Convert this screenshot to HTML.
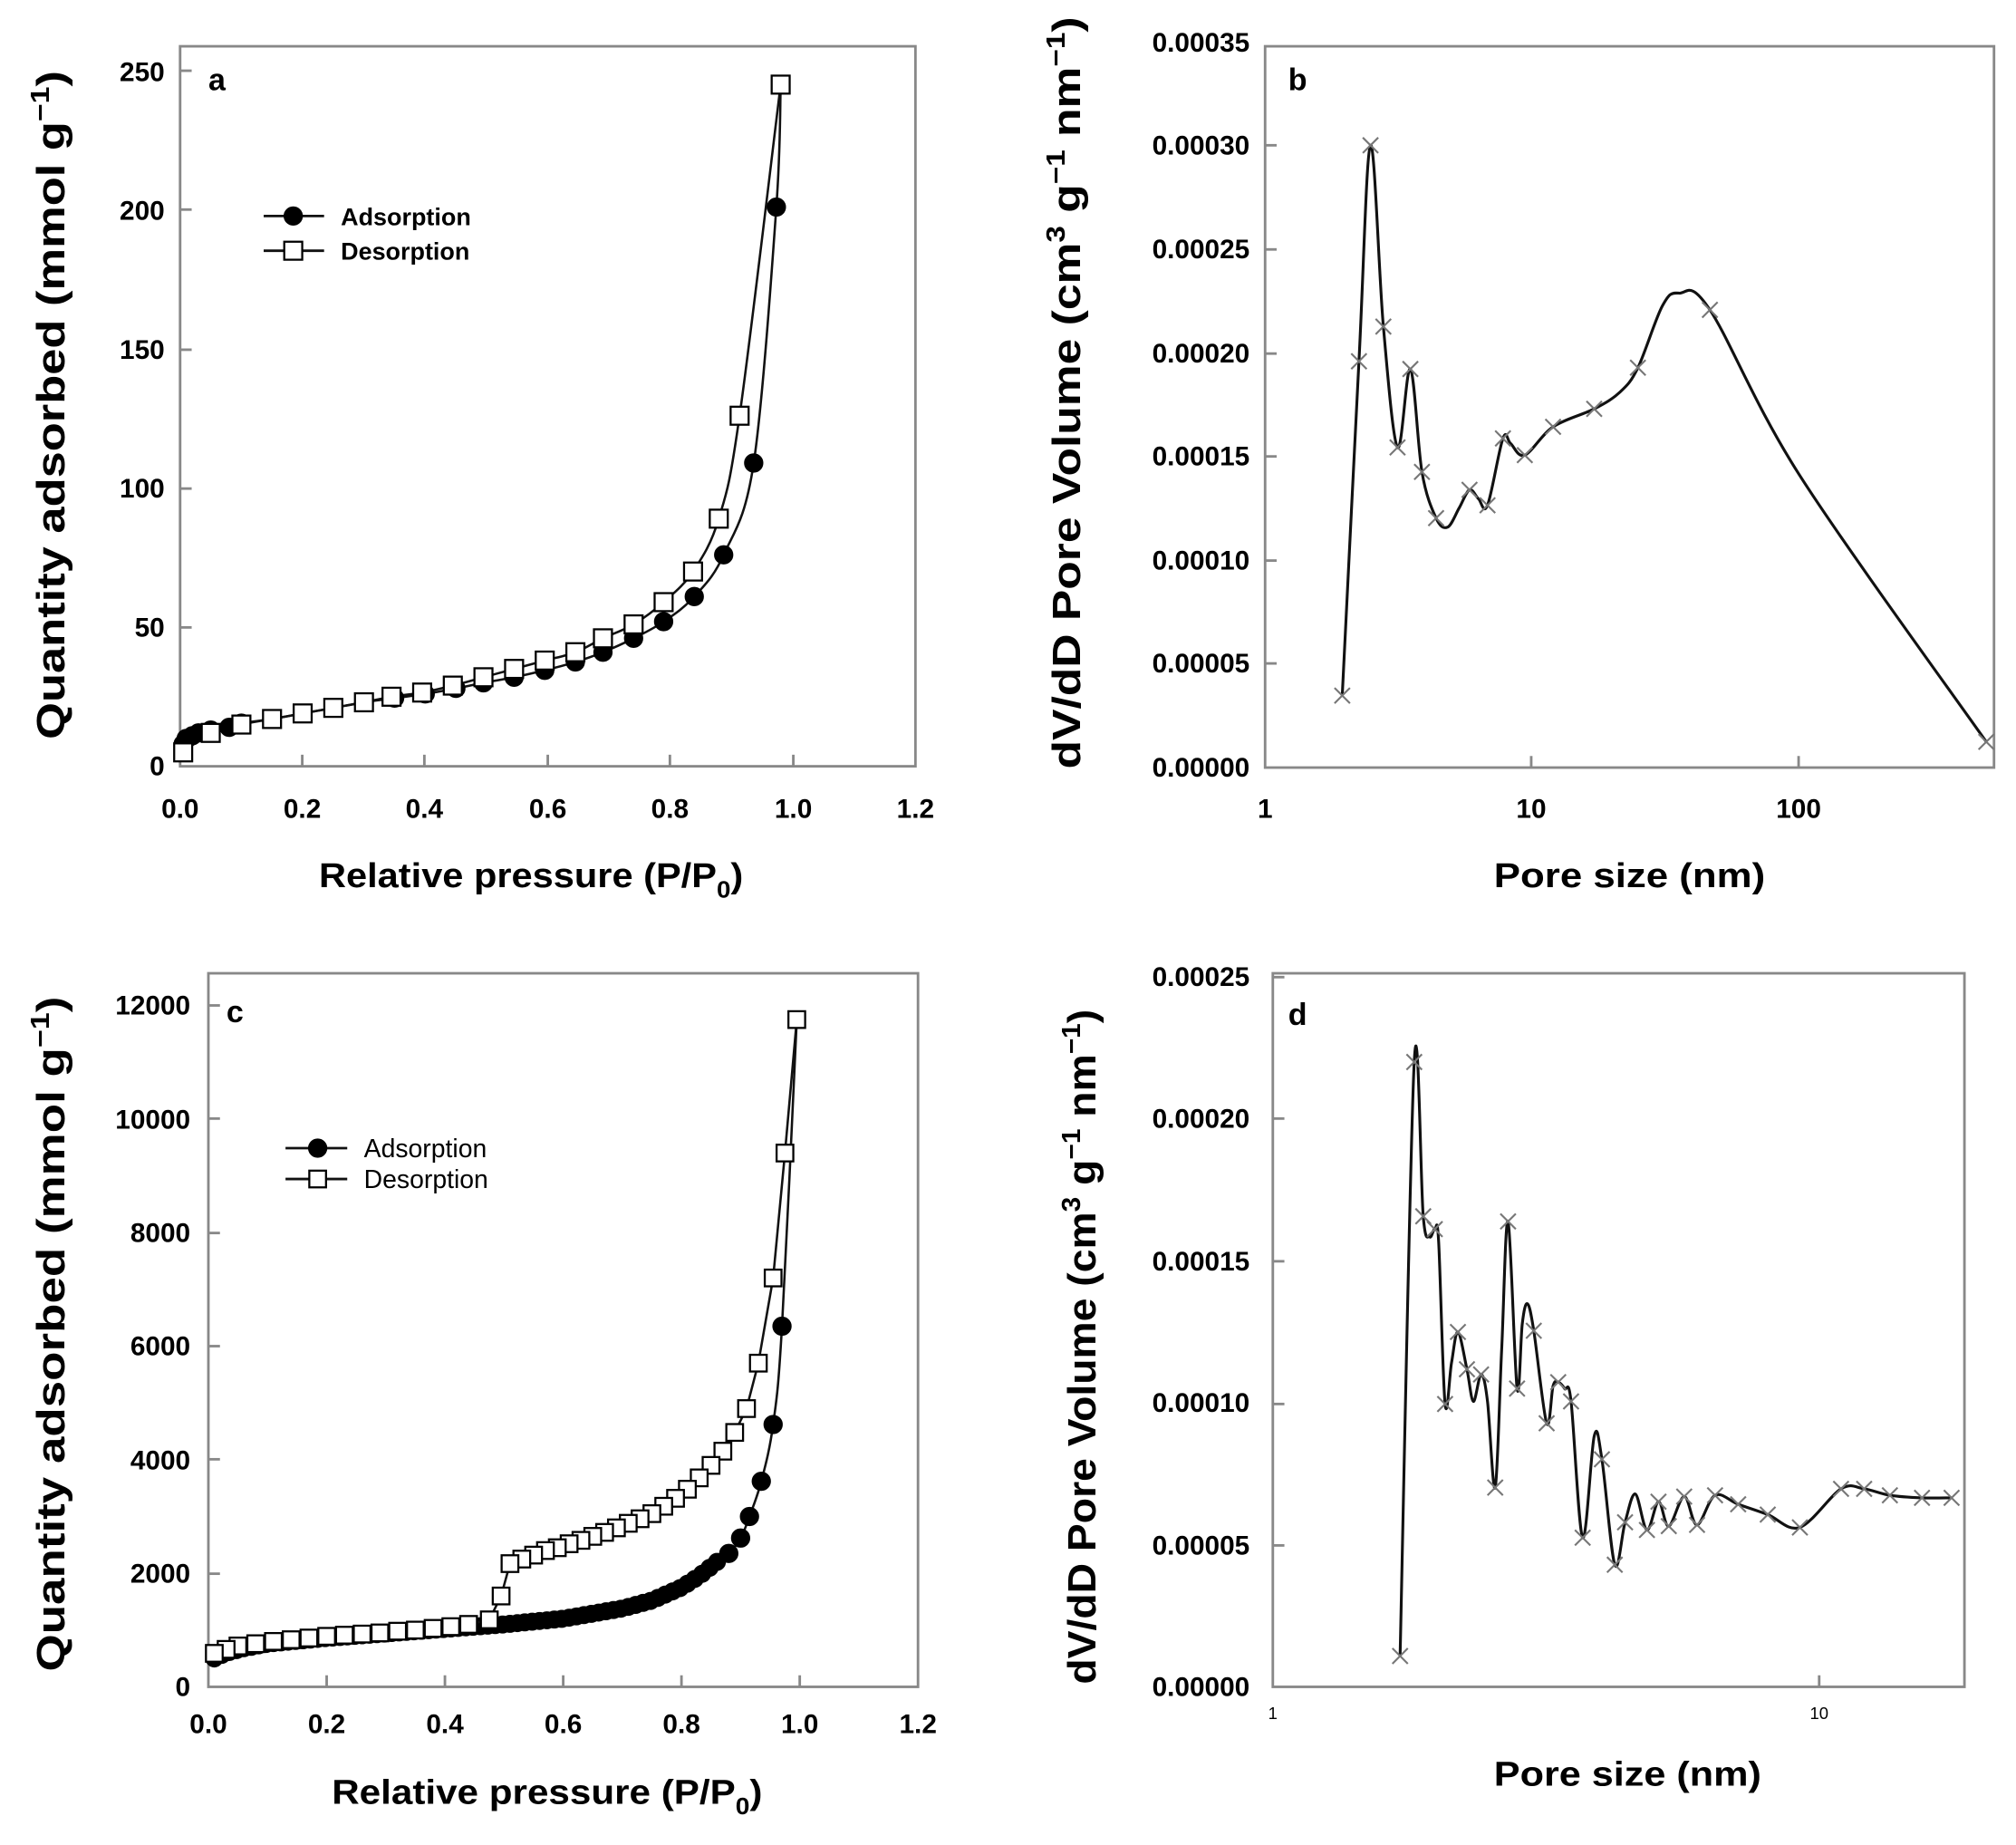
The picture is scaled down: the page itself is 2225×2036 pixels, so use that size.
<!DOCTYPE html>
<html><head><meta charset="utf-8"><style>
html,body{margin:0;padding:0;background:#fff;}
svg{display:block;}
text{font-family:"Liberation Sans",Arial,sans-serif;fill:#000;}
.b{font-weight:bold;}
</style></head><body>
<svg id="s" width="2225" height="2036" viewBox="0 0 1568 1435" xmlns="http://www.w3.org/2000/svg">
<rect width="1568" height="1435" fill="#fff"/>
<g id="g"></g>
<g class="b" font-size="21" text-anchor="end">
<text x="128" y="603">0</text><text x="128" y="495">50</text><text x="128" y="387">100</text>
<text x="128" y="279">150</text><text x="128" y="171">200</text><text x="128" y="63">250</text>
</g>
<g class="b" font-size="21" text-anchor="middle">
<text x="140" y="636">0.0</text><text x="235" y="636">0.2</text><text x="330" y="636">0.4</text>
<text x="426" y="636">0.6</text><text x="521" y="636">0.8</text><text x="617" y="636">1.0</text><text x="712" y="636">1.2</text>
</g>
<text class="b" x="162" y="70" font-size="24">a</text>
<text class="b" x="248" y="690" font-size="27" textLength="330" lengthAdjust="spacingAndGlyphs">Relative pressure (P/P<tspan font-size="18" dy="8">0</tspan><tspan dy="-8">)</tspan></text>
<text class="b" font-size="31" transform="translate(50,575) rotate(-90)" textLength="520" lengthAdjust="spacingAndGlyphs">Quantity adsorbed (mmol g<tspan font-size="20" dy="-12">−1</tspan><tspan dy="12">)</tspan></text>
<text class="b" x="265" y="175" font-size="19">Adsorption</text>
<text class="b" x="265" y="202" font-size="19">Desorption</text>

<g class="b" font-size="21" text-anchor="end">
<text x="972" y="604">0.00000</text><text x="972" y="523">0.00005</text><text x="972" y="443">0.00010</text>
<text x="972" y="362">0.00015</text><text x="972" y="282">0.00020</text><text x="972" y="201">0.00025</text>
<text x="972" y="120">0.00030</text><text x="972" y="40">0.00035</text>
</g>
<g class="b" font-size="21" text-anchor="middle">
<text x="984" y="636">1</text><text x="1191" y="636">10</text><text x="1399" y="636">100</text>
</g>
<text class="b" x="1002" y="70" font-size="24">b</text>
<text class="b" x="1162" y="690" font-size="27" textLength="211" lengthAdjust="spacingAndGlyphs">Pore size (nm)</text>
<text class="b" font-size="31" transform="translate(840,598) rotate(-90)" textLength="585" lengthAdjust="spacingAndGlyphs">dV/dD Pore Volume (cm<tspan font-size="20" dy="-12">3</tspan><tspan dy="12"> g</tspan><tspan font-size="20" dy="-12">−1</tspan><tspan dy="12"> nm</tspan><tspan font-size="20" dy="-12">−1</tspan><tspan dy="12">)</tspan></text>

<g class="b" font-size="21" text-anchor="end">
<text x="148" y="1319">0</text><text x="148" y="1231">2000</text><text x="148" y="1143">4000</text>
<text x="148" y="1054">6000</text><text x="148" y="966">8000</text><text x="148" y="878">10000</text><text x="148" y="789">12000</text>
</g>
<g class="b" font-size="21" text-anchor="middle">
<text x="162" y="1348">0.0</text><text x="254" y="1348">0.2</text><text x="346" y="1348">0.4</text>
<text x="438" y="1348">0.6</text><text x="530" y="1348">0.8</text><text x="622" y="1348">1.0</text><text x="714" y="1348">1.2</text>
</g>
<text class="b" x="176" y="795" font-size="24">c</text>
<text class="b" x="258" y="1403" font-size="27" textLength="335" lengthAdjust="spacingAndGlyphs">Relative pressure (P/P<tspan font-size="18" dy="8">0</tspan><tspan dy="-8">)</tspan></text>
<text class="b" font-size="31" transform="translate(50,1300) rotate(-90)" textLength="525" lengthAdjust="spacingAndGlyphs">Quantity adsorbed (mmol g<tspan font-size="20" dy="-12">−1</tspan><tspan dy="12">)</tspan></text>
<text x="283" y="900" font-size="20">Adsorption</text>
<text x="283" y="924" font-size="20">Desorption</text>

<g class="b" font-size="21" text-anchor="end">
<text x="972" y="1319">0.00000</text><text x="972" y="1209">0.00005</text><text x="972" y="1098">0.00010</text>
<text x="972" y="988">0.00015</text><text x="972" y="877">0.00020</text><text x="972" y="767">0.00025</text>
</g>
<g font-size="13" text-anchor="middle">
<text x="990" y="1337">1</text><text x="1415" y="1337">10</text>
</g>
<text class="b" x="1002" y="797" font-size="24">d</text>
<text class="b" x="1162" y="1389" font-size="27" textLength="208" lengthAdjust="spacingAndGlyphs">Pore size (nm)</text>
<text class="b" font-size="31" transform="translate(852,1310) rotate(-90)" textLength="525" lengthAdjust="spacingAndGlyphs">dV/dD Pore Volume (cm<tspan font-size="20" dy="-12">3</tspan><tspan dy="12"> g</tspan><tspan font-size="20" dy="-12">−1</tspan><tspan dy="12"> nm</tspan><tspan font-size="20" dy="-12">−1</tspan><tspan dy="12">)</tspan></text>
</svg>
<script>
var NS="http://www.w3.org/2000/svg",G=document.getElementById("g");
function el(t,a){var e=document.createElementNS(NS,t);for(var k in a)e.setAttribute(k,a[k]);G.appendChild(e);return e;}
function smooth(p){if(p.length<2)return"";var d="M"+p[0][0]+","+p[0][1];for(var i=0;i<p.length-1;i++){var p0=p[i-1]||p[i],p1=p[i],p2=p[i+1],p3=p[i+2]||p2;var c1x=p1[0]+(p2[0]-p0[0])/6,c1y=p1[1]+(p2[1]-p0[1])/6,c2x=p2[0]-(p3[0]-p1[0])/6,c2y=p2[1]-(p3[1]-p1[1])/6;d+="C"+c1x.toFixed(1)+","+c1y.toFixed(1)+" "+c2x.toFixed(1)+","+c2y.toFixed(1)+" "+p2[0].toFixed(1)+","+p2[1].toFixed(1);}return d;}
function line(p,w,c){el("path",{d:smooth(p),fill:"none",stroke:c||"#111","stroke-width":w||2});}
function circ(x,y,r){el("circle",{cx:x,cy:y,r:r,fill:"#000",stroke:"#000","stroke-width":1});}
function sq(x,y,s){el("rect",{x:x-s/2,y:y-s/2,width:s,height:s,fill:"#fff",stroke:"#000","stroke-width":1.6});}
function cross(x,y){el("path",{d:"M"+(x-6)+","+(y-6)+"L"+(x+6)+","+(y+6)+"M"+(x-6)+","+(y+6)+"L"+(x+6)+","+(y-6),stroke:"#777","stroke-width":1.5,fill:"none"});}
function box(l,t,r,b){el("rect",{x:l,y:t,width:r-l,height:b-t,fill:"none",stroke:"#888","stroke-width":2});}
function yt(l,ys){ys.forEach(function(y){el("line",{x1:l,y1:y,x2:l+9,y2:y,stroke:"#888","stroke-width":2});});}
function xt(b,xs){xs.forEach(function(x){el("line",{x1:x,y1:b,x2:x,y2:b-9,stroke:"#888","stroke-width":2});});}
function interp(A,x){for(var i=0;i<A.length-1;i++){if(x>=A[i][0]&&x<=A[i+1][0]){var t=(x-A[i][0])/(A[i+1][0]-A[i][0]);return A[i][1]+t*(A[i+1][1]-A[i][1]);}}return A[A.length-1][1];}

/* Panel a */
box(140,36,712,596);yt(140,[488,380,272,163,55]);xt(596,[235,330,426,521,617]);
var ax=function(P){return 140+P*476.7},ay=function(v){return 596-v*2.164};
var adsA=[[0.005,8],[0.01,10],[0.02,11],[0.03,12],[0.05,13],[0.08,14],[0.1,15.5],[0.15,17],[0.2,19],[0.25,21],[0.3,23],[0.35,24.5],[0.4,26],[0.45,28],[0.495,30],[0.545,32],[0.595,34.5],[0.645,37.5],[0.69,41],[0.74,46],[0.789,52],[0.839,61],[0.887,76],[0.936,109],[0.973,201],[0.98,245]];
var desA=[[0.98,245],[0.913,126],[0.879,89],[0.837,70],[0.789,59],[0.74,51],[0.69,46],[0.645,41],[0.595,38],[0.545,35],[0.495,32],[0.445,29],[0.395,26.5],[0.345,25],[0.3,23],[0.25,21],[0.2,19],[0.15,17],[0.1,15],[0.05,12],[0.005,5]];
var pa=adsA.map(function(d){return[ax(d[0]),ay(d[1])]}),pd=desA.map(function(d){return[ax(d[0]),ay(d[1])]});
line(pa,1.8);line(pd,1.8);
pa.slice(0,-1).forEach(function(p){circ(p[0],p[1],7);});
pd.forEach(function(p){sq(p[0],p[1],14);});
el("line",{x1:205,y1:168,x2:252,y2:168,stroke:"#111","stroke-width":2});circ(228,168,7);
el("line",{x1:205,y1:195,x2:252,y2:195,stroke:"#111","stroke-width":2});sq(228,195,14);

/* Panel b */
box(984,36,1551,597);yt(984,[516,436,355,275,194,113]);xt(597,[1191,1399]);
var bp=[[1044,541],[1057,281],[1066,113],[1076,254],[1087,348],[1097,287],[1106,367],[1117,403],[1126,410],[1135,395],[1143,381],[1150,388],[1157,393],[1169,341],[1175,345],[1186,354],[1208,332],[1240,318],[1260,305],[1274,286],[1293,238],[1306,228],[1330,241],[1400,370],[1545,577]];
line(bp,2.2);
var skipB={1126:1,1135:1,1150:1,1175:1,1260:1,1293:1,1306:1,1400:1};
bp.forEach(function(p){if(!skipB[p[0]])cross(p[0],p[1]);});

/* Panel c */
box(162,757,714,1312);yt(162,[1224,1135,1047,959,870,782]);xt(1312,[254,346,438,530,622]);
var cx=function(P){return 162+P*460},cy=function(v){return 1312-v*0.04417};
var adsC=[[0.01,500],[0.03,600],[0.06,680],[0.1,760],[0.2,860],[0.3,940],[0.4,1020],[0.5,1100],[0.6,1200],[0.7,1380],[0.75,1520],[0.8,1750],[0.83,1950],[0.86,2200],[0.88,2350],[0.9,2620],[0.915,3000],[0.935,3620],[0.955,4620],[0.97,6350],[0.995,11750]];
line(adsC.map(function(d){return[cx(d[0]),cy(d[1])]}),1.8);
for(var P=0.01;P<=0.87;P+=0.0125){circ(cx(P),cy(interp(adsC,P)),6.5);}
[[0.88,2350],[0.9,2620],[0.915,3000],[0.935,3620],[0.955,4620],[0.97,6350]].forEach(function(d){circ(cx(d[0]),cy(d[1]),7);});
var desC=[[0.995,11750],[0.975,9400],[0.955,7200],[0.93,5700],[0.91,4900],[0.89,4480],[0.87,4150],[0.85,3900],[0.83,3680],[0.81,3480],[0.79,3320],[0.77,3180],[0.75,3050],[0.73,2960],[0.71,2880],[0.69,2800],[0.67,2720],[0.65,2650],[0.63,2580],[0.61,2520],[0.59,2450],[0.57,2400],[0.55,2320],[0.53,2250],[0.51,2170],[0.495,1600],[0.475,1180],[0.44,1100],[0.41,1060],[0.38,1030],[0.35,1000],[0.32,980],[0.29,950],[0.26,930],[0.23,910],[0.2,890],[0.17,860],[0.14,830],[0.11,800],[0.08,760],[0.05,720],[0.03,660],[0.01,590]];
var pdc=desC.map(function(d){return[cx(d[0]),cy(d[1])]});
el("path",{d:"M"+pdc.map(function(p){return p[0].toFixed(1)+","+p[1].toFixed(1)}).join("L"),fill:"none",stroke:"#111","stroke-width":1.8});
pdc.forEach(function(p){sq(p[0],p[1],13);});
el("line",{x1:222,y1:893,x2:270,y2:893,stroke:"#111","stroke-width":2});circ(247,893,7);
el("line",{x1:222,y1:917,x2:270,y2:917,stroke:"#111","stroke-width":2});sq(247,917,13);

/* Panel d */
box(990,757,1528,1312);yt(990,[1202,1092,981,870,760]);xt(1312,[1415]);
var dp=[[1089,1288],[1100,826],[1107,946],[1112,962],[1116,956],[1119,966],[1124,1092],[1129,1060],[1134,1036],[1141,1065],[1146,1090],[1152,1069],[1157,1090],[1163,1157],[1168,1050],[1173,950],[1180,1080],[1184,1030],[1188,1014],[1193,1035],[1203,1107],[1208,1078],[1212,1075],[1217,1080],[1222,1090],[1231,1196],[1240,1117],[1246,1135],[1256,1217],[1264,1184],[1272,1162],[1281,1190],[1290,1168],[1298,1187],[1310,1164],[1320,1186],[1334,1163],[1352,1170],[1375,1178],[1400,1188],[1432,1158],[1450,1158],[1470,1163],[1495,1165],[1518,1165]];
line(dp,2.2);
[[1089,1288],[1100,826],[1107,946],[1116,956],[1124,1092],[1134,1036],[1141,1065],[1152,1069],[1163,1157],[1173,950],[1180,1080],[1193,1035],[1203,1107],[1212,1075],[1222,1090],[1231,1196],[1246,1135],[1256,1217],[1264,1184],[1281,1190],[1290,1168],[1298,1187],[1310,1164],[1320,1186],[1334,1163],[1352,1170],[1375,1178],[1400,1188],[1432,1158],[1450,1158],[1470,1163],[1495,1165],[1518,1165]].forEach(function(p){cross(p[0],p[1]);});
</script>
</body></html>
